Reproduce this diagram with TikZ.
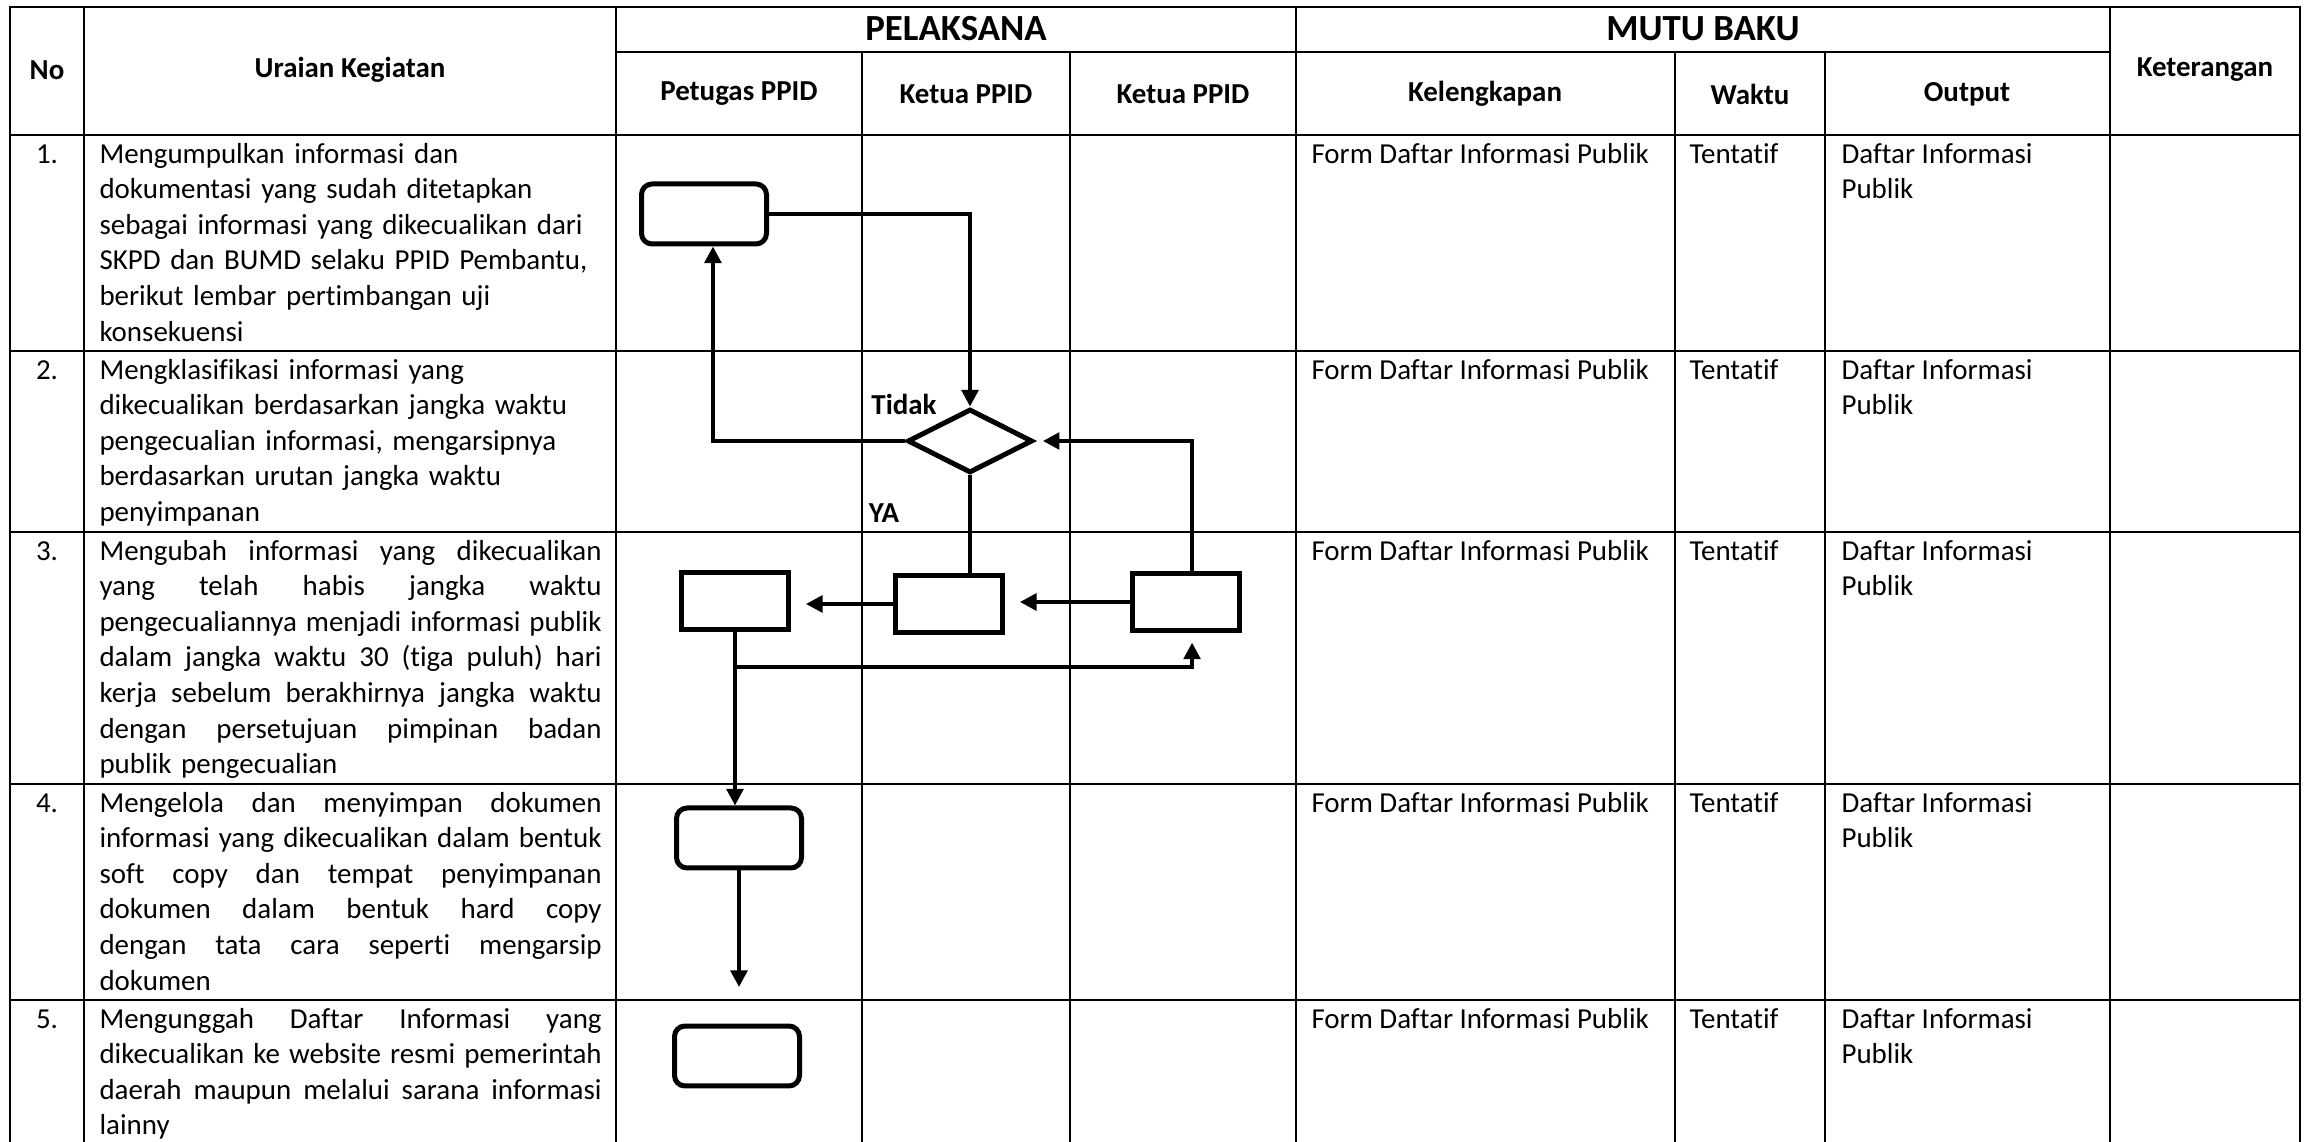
\documentclass[tikz,border=0pt]{standalone}
\usepackage{fontspec}
\setmainfont{Carlito}[Ligatures=NoCommon]
\usepackage{tikz}
\usetikzlibrary{arrows.meta,calc,positioning,shapes}

\newcommand{\jl}[1]{\hbox to 190.8pt{\spaceskip=.226em plus 1fil minus .07em\relax #1}\par}

\begin{document}
\begin{tikzpicture}[
		x=0.38pt, y=-0.38pt,
		grid/.style={line width=0.75pt},
		bord/.style={line width=1.1pt},
		head/.style={font=\fontsize{11}{13.5}\selectfont\bfseries, inner sep=0pt},
		titre/.style={font=\fontsize{14}{17}\selectfont\bfseries, inner sep=0pt},
		cellj/.style={anchor=north west, inner sep=0pt, font=\fontsize{11}{13.5}\selectfont},
		cell/.style={cellj, align=left},
		kotak/.style={draw, line width=1.9pt, minimum width=41pt, minimum height=22pt, inner sep=0pt},
		bulat/.style={kotak, rounded corners=4pt, minimum width=47.5pt, minimum height=22.8pt},
		losange/.style={diamond, draw, line width=1.9pt, minimum width=47.5pt, minimum height=24.3pt, inner sep=0pt},
		trait/.style={line width=1.5pt},
		fleche/.style={trait, -{Triangle[length=6.3pt,width=6.3pt]}}
		]
		
		\fill[white] (0,0) rectangle (2306,1142);
		\useasboundingbox (0,0) rectangle (2306,1142);
		
		% Le tableau
		\draw[bord] (10,1142) -- (10,7) -- (2300,7) -- (2300,1142);
		\draw[bord] (10,135) -- (2300,135);
		\draw[grid] (616,52) -- (2110,52);
		\draw[grid] (10,351) -- (2300,351);
		\draw[grid] (10,532) -- (2300,532);
		\draw[grid] (10,784) -- (2300,784);
		\draw[grid] (10,1000) -- (2300,1000);
		\draw[grid] (84,7) -- (84,1142);
		\draw[grid] (616,7) -- (616,1142);
		\draw[grid] (862,52) -- (862,1142);
		\draw[grid] (1070,52) -- (1070,1142);
		\draw[grid] (1296,7) -- (1296,1142);
		\draw[grid] (1675,52) -- (1675,1142);
		\draw[grid] (1825,52) -- (1825,1142);
		\draw[grid] (2110,7) -- (2110,1142);
		
		% Les en-tetes
		\node[head] (no) at (47,70) {No};
		\node[head] (uraian) at (350,70) {Uraian Kegiatan};
		\node[titre] (pelaksana) at (956,29) {PELAKSANA};
		\node[titre] (mutu) at (1703,29) {MUTU BAKU};
		\node[head] (keterangan) at (2205,70) {Keterangan};
		\node[head] (petugas) at (739,94) {Petugas PPID};
		\node[head] (ketua1) at (966,94) {Ketua PPID};
		\node[head] (ketua2) at (1183,94) {Ketua PPID};
		\node[head] (kelengkapan) at (1485,94) {Kelengkapan};
		\node[head] (waktu) at (1750,94) {Waktu};
		\node[head] (output) at (1967,94) {Output};
		
		% Les lignes
		\node[cell, anchor=north] (n1) at (47,138) {\strut 1.};
		\node[cell, text width=200pt] (t1) at (99,138) {\strut Mengumpulkan informasi dan\\
			dokumentasi yang sudah ditetapkan\\
			sebagai informasi yang dikecualikan dari\\
			SKPD dan BUMD selaku PPID Pembantu,\\
			berikut lembar pertimbangan uji\\
			konsekuensi};
		\node[cell] (f1) at (1311,138) {\strut Form Daftar Informasi Publik};
		\node[cell] (w1) at (1689,138) {\strut Tentatif};
		\node[cell] (o1) at (1841,138) {\strut Daftar Informasi\\Publik};
		
		\node[cell, anchor=north] (n2) at (47,354) {\strut 2.};
		\node[cell, text width=200pt] (t2) at (99,354) {\strut Mengklasifikasi informasi yang\\
			dikecualikan berdasarkan jangka waktu\\
			pengecualian informasi, mengarsipnya\\
			berdasarkan urutan jangka waktu\\
			penyimpanan};
		\node[cell] (f2) at (1311,354) {\strut Form Daftar Informasi Publik};
		\node[cell] (w2) at (1689,354) {\strut Tentatif};
		\node[cell] (o2) at (1841,354) {\strut Daftar Informasi\\Publik};
		
		\node[cell, anchor=north] (n3) at (47,535) {\strut 3.};
		\node[cellj, text width=190.8pt] (t3) at (99,535) {\jl{\strut Mengubah informasi yang dikecualikan}
			\jl{yang telah habis jangka waktu}
			\jl{pengecualiannya menjadi informasi publik}
			\jl{dalam jangka waktu 30 (tiga puluh) hari}
			\jl{kerja sebelum berakhirnya jangka waktu}
			\jl{dengan persetujuan pimpinan badan}
			publik pengecualian};
		\node[cell] (f3) at (1311,535) {\strut Form Daftar Informasi Publik};
		\node[cell] (w3) at (1689,535) {\strut Tentatif};
		\node[cell] (o3) at (1841,535) {\strut Daftar Informasi\\Publik};
		
		\node[cell, anchor=north] (n4) at (47,787) {\strut 4.};
		\node[cellj, text width=190.8pt] (t4) at (99,787) {\jl{\strut Mengelola dan menyimpan dokumen}
			\jl{informasi yang dikecualikan dalam bentuk}
			\jl{soft copy dan tempat penyimpanan}
			\jl{dokumen dalam bentuk hard copy}
			\jl{dengan tata cara seperti mengarsip}
			dokumen};
		\node[cell] (f4) at (1311,787) {\strut Form Daftar Informasi Publik};
		\node[cell] (w4) at (1689,787) {\strut Tentatif};
		\node[cell] (o4) at (1841,787) {\strut Daftar Informasi\\Publik};
		
		\node[cell, anchor=north] (n5) at (47,1003) {\strut 5.};
		\node[cellj, text width=190.8pt] (t5) at (99,1003) {\jl{\strut Mengunggah Daftar Informasi yang}
			\jl{dikecualikan ke website resmi pemerintah}
			\jl{daerah maupun melalui sarana informasi}
			lainny};
		\node[cell] (f5) at (1311,1003) {\strut Form Daftar Informasi Publik};
		\node[cell] (w5) at (1689,1003) {\strut Tentatif};
		\node[cell] (o5) at (1841,1003) {\strut Daftar Informasi\\Publik};
		
		% Les formes
		\node[bulat] (K1) at (704,214) {};
		\node[losange] (D) at (970,441) {};
		\node[kotak] (K3a) at (735,601) {};
		\node[kotak] (K3b) at (949,604) {};
		\node[kotak] (K3c) at (1186,602) {};
		\node[bulat] (K4) at (739,838) {};
		\node[bulat] (K5) at (737,1056) {};
		\coordinate (pisah) at (735,667);
		\coordinate (akhir) at (739,987);
		
		\node[head] (tidak) at (904,404) {Tidak};
		\node[head] (ya) at (884,513) {YA};
		
		% Les flèches
		\draw[fleche] (K1.east) -| (D.north);
		\draw[fleche] (D.west) -| ([xshift=3.4pt]K1.south);
		\draw[trait] (D.south) -- (D.south |- K3b.north);
		\draw[fleche, shorten >=3pt] ([xshift=2.3pt]K3c.north) |- (D.east);
		\draw[fleche, shorten >=5.5pt] (K3b.west) -- (K3b.west -| K3a.east);
		\draw[fleche, shorten >=5.5pt] (K3c.west) -- (K3c.west -| K3b.east);
		\draw[fleche] (K3a.south) -- (K3a.south |- K4.north);
		\draw[fleche, shorten >=3.5pt] (pisah) -| ([xshift=2.3pt]K3c.south);
		\draw[fleche] (K4.south) -- (akhir);
	\end{tikzpicture}
\end{document}
